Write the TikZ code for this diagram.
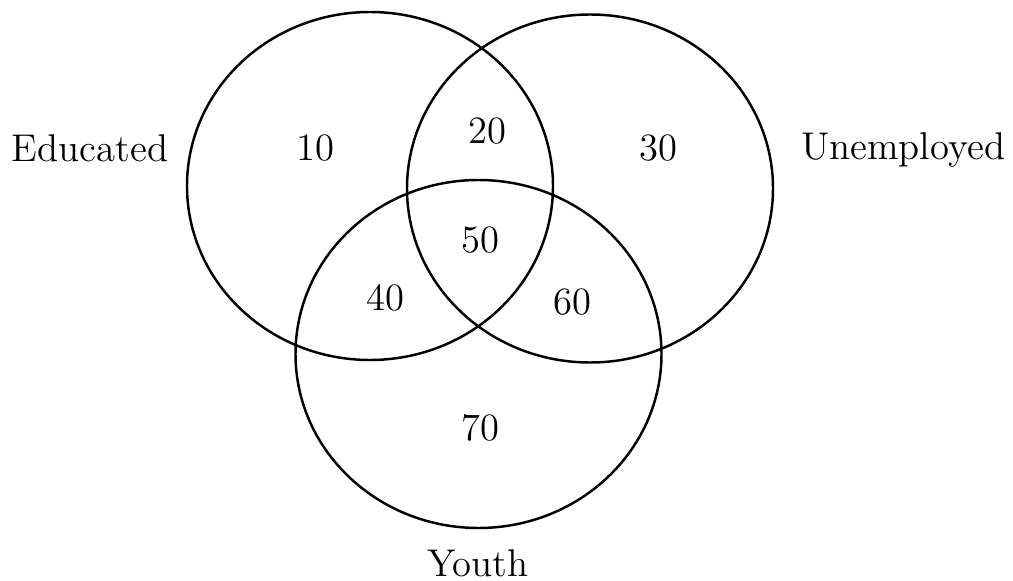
\documentclass[tikz,border=0pt]{standalone}
\usepackage{tikz}
\usetikzlibrary{shapes.geometric}

\begin{document}
\begin{tikzpicture}[
    setring/.style={ellipse,draw,line width=0.7pt,minimum width=3.66cm,minimum height=3.48cm,inner sep=0pt},
    lbl/.style={font=\fontsize{11}{13}\selectfont},
    num/.style={font=\fontsize{11}{13}\selectfont}]
    \useasboundingbox (0,0) rectangle (10.13,5.80);

    % The three sets
    \node[setring] (edu) at (3.70,3.94) {};
    \node[setring] (unemp) at (5.90,3.915) {};
    \node[setring] (youth) at (4.785,2.26) {};

    % Set names
    \node[lbl] (eduname) at (0.90,4.32) {Educated};
    \node[lbl] (unempname) at (9.03,4.30) {Unemployed};
    \node[lbl] (youthname) at (4.78,0.17) {Youth};

    % Counts in each region
    \node[num] (n10) at (3.15,4.32) {10};
    \node[num] (n20) at (4.87,4.49) {20};
    \node[num] (n30) at (6.58,4.32) {30};
    \node[num] (n50) at (4.80,3.40) {50};
    \node[num] (n40) at (3.85,2.82) {40};
    \node[num] (n60) at (5.72,2.78) {60};
    \node[num] (n70) at (4.80,1.52) {70};
\end{tikzpicture}
\end{document}
